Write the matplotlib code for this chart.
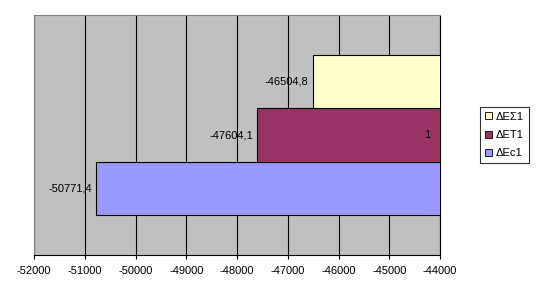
import matplotlib
matplotlib.use("Agg")
import matplotlib.pyplot as plt
from matplotlib.patches import Patch
import numpy as np

plt.rcParams['font.family'] = ['Liberation Sans', 'DejaVu Sans']

series = ["ΔEc1", "ΔET1", "ΔEΣ1"]
values = [-50771.4, -47604.1, -46504.8]
labels = ["-50771,4", "-47604,1", "-46504,8"]
colors = ["#9999FF", "#993366", "#FFFFCC"]
category = "1"
xticks = list(range(-52000, -43999, 1000))

fig = plt.figure(figsize=(5.37, 2.98), dpi=100)
ax = fig.add_axes([34/537, 1 - 255/298, (440-34)/537, 240/298])
ax.set_facecolor("#C0C0C0")

positions = [-1, 0, 1]
for pos, v, lab, c in zip(positions, values, labels, colors):
    ax.barh(pos, v, height=1.0, color=c, edgecolor="black", linewidth=0.8, zorder=3)
    ax.annotate(lab, xy=(v, pos), xytext=(-3, 0), textcoords="offset points",
                ha="right", va="center", fontsize=8, zorder=4)

ax.set_xlim(xticks[0], xticks[-1])
ax.set_ylim(-2.25, 2.25)
ax.set_xticks(xticks)
ax.set_xticklabels([str(t) for t in xticks], fontsize=8)
ax.set_yticks([])
ax.xaxis.grid(True, color="black", linewidth=0.8, zorder=1)
ax.set_axisbelow(True)
ax.tick_params(axis="x", direction="out", length=3, width=0.8, pad=5, color="black")

for side in ["top", "left"]:
    ax.spines[side].set_color("#808080")
    ax.spines[side].set_linewidth(0.8)
for side in ["bottom", "right"]:
    ax.spines[side].set_color("black")
    ax.spines[side].set_linewidth(0.8)

ax.text(0.975, 0.5, category, transform=ax.transAxes, ha="right", va="center", fontsize=8, zorder=5)

handles = [Patch(facecolor=c, edgecolor="black", linewidth=0.6, label=s)
           for s, c in zip(series, colors)][::-1]
leg = fig.legend(handles=handles, loc="center", bbox_to_anchor=(504.5/537, 1 - 135/298),
                 fontsize=8, frameon=True, fancybox=False, edgecolor="black",
                 handlelength=0.6, handleheight=0.6, handletextpad=0.35,
                 borderpad=0.45, labelspacing=0.75, borderaxespad=0)
leg.get_frame().set_linewidth(0.8)

fig.savefig("out.png", dpi=100)
